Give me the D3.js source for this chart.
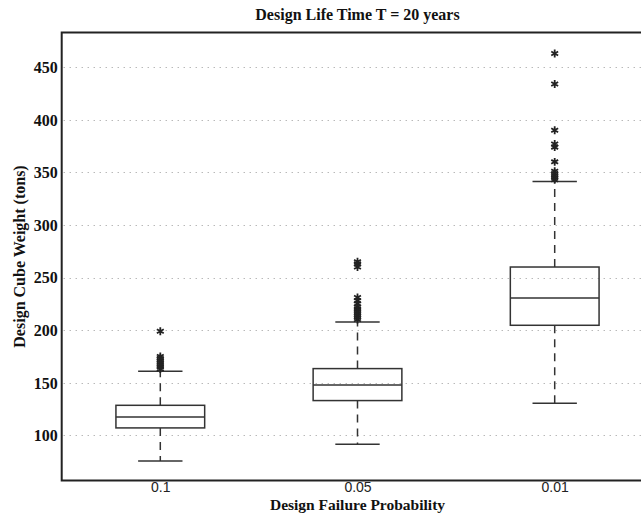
<!DOCTYPE html>
<html>
<head>
<meta charset="utf-8">
<title>Design Cube Weight</title>
<style>
	body{ margin:0; background:#fff; }
	svg{ display:block; }
	.serif{ font-family:"Liberation Serif","Times New Roman",serif; font-weight:bold; fill:#111; }
</style>
</head>
<body>
<div id="chart"></div>
<script src="https://d3js.org/d3.v7.min.js"></script>
<script type="text/javascript">

// values (tons)
var categories = ["0.1", "0.05", "0.01"],
	whiskerLow = [75.6, 91.4, 130.4],
	q1 = [107, 133, 204.6],
	median = [117.4, 147.8, 230.5],
	q3 = [128.5, 163.4, 260],
	whiskerHigh = [160.8, 207.7, 341.4],
	outliers = [
		[163, 165, 167, 169, 171, 173, 175, 199],
		[210, 212, 214, 216, 218, 220, 222, 225, 228, 231, 260, 263, 265],
		[343, 345, 347, 349, 351, 360, 374, 377, 390, 434, 463]
	],
	yTicks = [100, 150, 200, 250, 300, 350, 400, 450];

var W = 641, H = 517,
	pLeft = 61.7, pRight = 653.3, pTop = 32.5, pBottom = 480.5;

var svg = d3.select('#chart').append('svg').attr('width', W).attr('height', H);

var x = d3.scaleLinear().domain([0.5, 3.5]).range([pLeft, pRight]),
	y = d3.scaleLinear().domain([57, 483]).range([pBottom, pTop]);

// dotted grid
svg.append('g').selectAll('line').data(yTicks).join('line')
	.attr('x1', pLeft + 2).attr('x2', pRight)
	.attr('y1', function(d){ return Math.round(y(d)) + 0.5; })
	.attr('y2', function(d){ return Math.round(y(d)) + 0.5; })
	.style('stroke', '#999').style('stroke-width', 1)
	.style('stroke-dasharray', '1,5');

// y axis labels
var yAxis = svg.append('g')
	.attr('transform', 'translate(' + pLeft + ',0)')
	.call(d3.axisLeft(y).tickValues(yTicks).tickSize(0).tickPadding(4).tickFormat(d3.format('d')));
yAxis.select('.domain').remove();
yAxis.selectAll('text').attr('class', 'serif').style('font-size', '16px').attr('dy', '0.34em');

// x axis labels
var xAxis = svg.append('g')
	.attr('transform', 'translate(0,' + pBottom + ')')
	.call(d3.axisBottom(x).tickValues([1, 2, 3]).tickSize(0).tickPadding(2)
		.tickFormat(function(d){ return categories[d - 1]; }));
xAxis.select('.domain').remove();
xAxis.selectAll('text').style('font-family', '"Liberation Sans", Arial, sans-serif')
	.style('font-size', '14px').style('fill', '#222');

var boxes = svg.append('g').selectAll('g').data(categories).join('g');
var bw = 0.45, cw = 0.225;

function ln(g, x1, x2, y1, y2){
	return g.append('line').attr('x1', x1).attr('x2', x2).attr('y1', y1).attr('y2', y2)
		.style('stroke', '#333').style('stroke-width', 1.5);
}

boxes.each(function(c, i){
	var g = d3.select(this), cx = x(i + 1);
	// whiskers
	ln(g, cx, cx, y(q3[i]), y(whiskerHigh[i])).style('stroke-dasharray', '8,6');
	ln(g, cx, cx, y(q1[i]), y(whiskerLow[i])).style('stroke-dasharray', '8,6');
	ln(g, x(i + 1 - cw / 2), x(i + 1 + cw / 2), y(whiskerHigh[i]), y(whiskerHigh[i]));
	ln(g, x(i + 1 - cw / 2), x(i + 1 + cw / 2), y(whiskerLow[i]), y(whiskerLow[i]));
	// box
	g.append('rect')
		.attr('x', x(i + 1 - bw / 2)).attr('width', x(i + 1 + bw / 2) - x(i + 1 - bw / 2))
		.attr('y', y(q3[i])).attr('height', y(q1[i]) - y(q3[i]))
		.style('fill', 'none').style('stroke', '#333').style('stroke-width', 1.5);
	ln(g, x(i + 1 - bw / 2), x(i + 1 + bw / 2), y(median[i]), y(median[i]));
	// outliers
	g.selectAll('path').data(outliers[i]).join('path')
		.attr('d', d3.symbol().type(d3.symbolAsterisk).size(44))
		.attr('transform', function(d){ return 'translate(' + cx + ',' + y(d) + ')'; })
		.style('fill', 'none').style('stroke', '#222').style('stroke-width', 1.8);
});

// axes frame (right side falls outside the picture)
svg.append('path')
	.attr('d', 'M' + pRight + ',' + pTop + 'H' + pLeft + 'V' + pBottom + 'H' + pRight)
	.style('fill', 'none').style('stroke', '#222').style('stroke-width', 2);

// titles
svg.append('text').attr('class', 'serif')
	.attr('x', (pLeft + pRight) / 2).attr('y', 20)
	.attr('text-anchor', 'middle').style('font-size', '16px')
	.text('Design Life Time T = 20 years');

svg.append('text').attr('class', 'serif')
	.attr('x', (pLeft + pRight) / 2).attr('y', 510)
	.attr('text-anchor', 'middle').style('font-size', '15.5px')
	.text('Design Failure Probability');

svg.append('text').attr('class', 'serif')
	.attr('transform', 'translate(25,' + (pTop + pBottom) / 2 + ') rotate(-90)')
	.attr('text-anchor', 'middle').style('font-size', '16px')
	.text('Design Cube Weight (tons)');

</script>
</body>
</html>
